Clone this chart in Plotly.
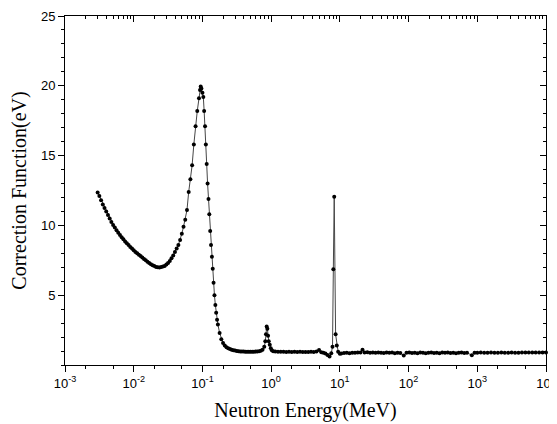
import plotly.graph_objects as go

# neutron energy given as log10(E / MeV)
log_energy = [
    -2.525, -2.500, -2.475, -2.450, -2.425, -2.400, -2.375, -2.350, -2.325, -2.300,
    -2.275, -2.250, -2.225, -2.200, -2.175, -2.150, -2.125, -2.100, -2.075, -2.050,
    -2.025, -2.000, -1.975, -1.950, -1.925, -1.900, -1.875, -1.850, -1.825, -1.800,
    -1.775, -1.750, -1.725, -1.700, -1.675, -1.650, -1.625, -1.600, -1.575, -1.550,
    -1.525, -1.500, -1.475, -1.450, -1.425, -1.400, -1.375, -1.350, -1.325, -1.300,
    -1.275, -1.250, -1.225, -1.200, -1.175, -1.150, -1.125, -1.100, -1.075, -1.050,
    -1.035, -1.025, -1.015, -1.000, -0.987, -0.975, -0.962, -0.950, -0.938, -0.925,
    -0.912, -0.900, -0.887, -0.875, -0.862, -0.850, -0.838, -0.825, -0.812, -0.800,
    -0.787, -0.775, -0.750, -0.725, -0.700, -0.675, -0.650, -0.625, -0.600, -0.575,
    -0.550, -0.525, -0.500, -0.475, -0.450, -0.425, -0.400, -0.375, -0.350, -0.325,
    -0.300, -0.275, -0.250, -0.225, -0.200, -0.175, -0.150, -0.125, -0.100, -0.085,
    -0.075, -0.065, -0.055, -0.045, -0.035, -0.020, -0.005, 0.010, 0.030, 0.060,
    0.100, 0.140, 0.180, 0.220, 0.260, 0.300, 0.340, 0.380, 0.420, 0.460,
    0.500, 0.540, 0.580, 0.620, 0.660, 0.697, 0.730, 0.760, 0.790, 0.820,
    0.850, 0.875, 0.893, 0.905, 0.918, 0.938, 0.955, 0.975, 1.000, 1.020,
    1.060, 1.100, 1.140, 1.180, 1.220, 1.260, 1.300, 1.330, 1.360, 1.400,
    1.440, 1.480, 1.520, 1.560, 1.600, 1.640, 1.680, 1.720, 1.760, 1.800,
    1.840, 1.880, 1.930, 1.970, 2.010, 2.050, 2.090, 2.130, 2.170, 2.210,
    2.250, 2.290, 2.330, 2.370, 2.410, 2.450, 2.490, 2.530, 2.570, 2.610,
    2.650, 2.690, 2.730, 2.770, 2.810, 2.850, 2.920, 2.960, 3.000, 3.050,
    3.100, 3.150, 3.200, 3.250, 3.300, 3.350, 3.400, 3.450, 3.500, 3.550,
    3.600, 3.650, 3.700, 3.750, 3.800, 3.850, 3.900, 3.950, 4.000,
]

correction = [
    12.35, 12.10, 11.80, 11.50, 11.25, 11.00, 10.75, 10.50, 10.25, 10.02,
    9.85, 9.65, 9.48, 9.32, 9.15, 9.00, 8.85, 8.72, 8.60, 8.46,
    8.34, 8.22, 8.10, 8.00, 7.90, 7.80, 7.70, 7.60, 7.50, 7.40,
    7.30, 7.22, 7.15, 7.10, 7.02, 7.00, 6.98, 7.02, 7.05, 7.10,
    7.20, 7.30, 7.45, 7.65, 7.85, 8.10, 8.35, 8.60, 8.95, 9.40,
    9.90, 10.40, 11.10, 12.40, 13.30, 14.30, 15.80, 17.10, 18.20, 19.10,
    19.70, 19.95, 19.80, 19.50, 19.20, 18.20, 17.10, 15.80, 14.40, 13.00,
    11.90, 10.80, 9.60, 8.60, 7.75, 6.90, 5.90, 5.00, 4.30, 3.75,
    3.25, 2.90, 2.30, 1.85, 1.58, 1.40, 1.28, 1.20, 1.14, 1.10,
    1.06, 1.03, 1.00, 0.98, 0.97, 0.96, 0.96, 0.95, 0.95, 0.95,
    0.95, 0.95, 0.95, 0.96, 0.96, 0.98, 1.02, 1.10, 1.30, 1.70,
    2.20, 2.75, 2.60, 2.10, 1.70, 1.45, 1.20, 1.05, 0.98, 0.96,
    0.95, 0.95, 0.95, 0.94, 0.95, 0.94, 0.95, 0.93, 0.95, 0.94,
    0.94, 0.93, 0.95, 0.94, 0.96, 1.08, 0.92, 0.88, 0.82, 0.72,
    0.60, 0.85, 1.30, 6.85, 12.05, 2.20, 1.40, 0.95, 0.80, 0.82,
    0.86, 0.87, 0.85, 0.88, 0.87, 0.90, 0.89, 1.10, 0.90, 0.92,
    0.88, 0.90, 0.87, 0.90, 0.88, 0.86, 0.90, 0.87, 0.89, 0.85,
    0.88, 0.86, 0.68, 0.88, 0.90, 0.86, 0.88, 0.85, 0.89, 0.87,
    0.84, 0.88, 0.90, 0.86, 0.88, 0.85, 0.89, 0.87, 0.90, 0.86,
    0.88, 0.85, 0.87, 0.89, 0.86, 0.88, 0.70, 0.87, 0.88, 0.89,
    0.87, 0.88, 0.89, 0.88, 0.88, 0.89, 0.88, 0.88, 0.89, 0.88,
    0.88, 0.89, 0.89, 0.89, 0.89, 0.89, 0.89, 0.89, 0.89,
]

energy = [10 ** v for v in log_energy]

x_tickvals = [1e-3, 1e-2, 1e-1, 1e0, 1e1, 1e2, 1e3, 1e4]
x_ticktext = ["10<sup>-3</sup>", "10<sup>-2</sup>", "10<sup>-1</sup>", "10<sup>0</sup>",
              "10<sup>1</sup>", "10<sup>2</sup>", "10<sup>3</sup>", "10<sup>4</sup>"]
y_tickvals = [5, 10, 15, 20, 25]

tick_font = dict(family="Liberation Sans, Arial", size=13, color="black")
title_font = dict(family="Liberation Serif, Times New Roman", size=20, color="black")

fig = go.Figure()
fig.add_trace(go.Scatter(
    x=energy, y=correction, mode="lines+markers",
    line=dict(color="rgb(70,70,70)", width=1),
    marker=dict(color="black", size=4),
    showlegend=False, cliponaxis=False))
# empty trace so the mirrored top/right axes get drawn
fig.add_trace(go.Scatter(x=[], y=[], xaxis="x2", yaxis="y2", showlegend=False))

# the page adds an 8px body margin, so the plot box is shifted back by that much
fig.update_layout(
    width=557, height=424,
    margin=dict(l=57, r=19, t=8, b=67, autoexpand=False),
    paper_bgcolor="white", plot_bgcolor="white",
    xaxis=dict(
        type="log", range=[-3, 4], tickvals=x_tickvals, ticktext=x_ticktext,
        automargin=False, ticklabeloverflow="allow",
        showgrid=False, zeroline=False, showline=True, linecolor="black", linewidth=1,
        ticks="outside", ticklen=6, tickcolor="black", tickfont=tick_font,
        minor=dict(ticks="outside", ticklen=3, tickcolor="black", showgrid=False),
        title=dict(text="Neutron Energy(MeV)", font=title_font, standoff=13),
    ),
    yaxis=dict(
        range=[0, 25], tickvals=y_tickvals, automargin=False,
        showgrid=False, zeroline=False, showline=True, linecolor="black", linewidth=1,
        ticks="outside", ticklen=6, tickcolor="black", tickfont=tick_font,
        minor=dict(ticks="outside", ticklen=3, tickcolor="black", dtick=1, showgrid=False),
        title=dict(text="Correction Function(eV)", font=title_font, standoff=8),
    ),
    xaxis2=dict(
        type="log", range=[-3, 4], dtick=1, overlaying="x", side="top", automargin=False,
        showgrid=False, zeroline=False, showline=True, linecolor="black", linewidth=1,
        ticks="inside", ticklen=6, tickcolor="black", showticklabels=False,
        minor=dict(ticks="inside", ticklen=3, tickcolor="black", showgrid=False),
    ),
    yaxis2=dict(
        range=[0, 25], tickvals=y_tickvals, overlaying="y", side="right",
        automargin=False,
        showgrid=False, zeroline=False, showline=True, linecolor="black", linewidth=1,
        ticks="inside", ticklen=6, tickcolor="black", showticklabels=False,
        minor=dict(ticks="inside", ticklen=3, tickcolor="black", dtick=1, showgrid=False),
    ),
)

fig.write_html("out.html")
